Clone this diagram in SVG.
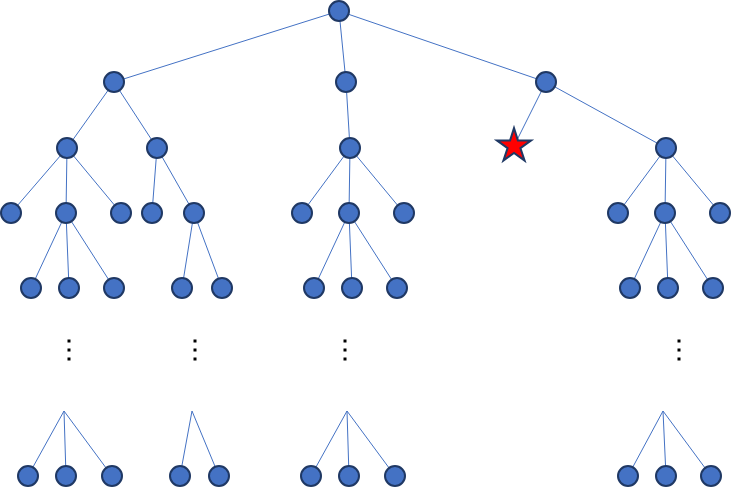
<svg xmlns="http://www.w3.org/2000/svg" width="732" height="487" viewBox="0 0 732 487">
<style>
.e{stroke:#4472C4;stroke-width:1;fill:none}
.n{fill:#4472C4;stroke:#1F3864;stroke-width:2}
.d{fill:#000}
</style>
<defs>
<circle id="c" r="10" class="n"/>
<g id="dots"><rect x="-1.5" y="-1.5" width="3" height="3" class="d"/><rect x="-1.5" y="7.5" width="3" height="3" class="d"/><rect x="-1.5" y="16.5" width="3" height="3" class="d"/></g>
</defs>
<rect width="732" height="487" fill="#fff"/>
<g id="connectors">
<path class="e" d="M339 11L114 82M339 11L346 82M339 11L546 82"/>
<path class="e" d="M114 82L67 148M114 82L157 148M346 82L350 148M546 82L514 146M546 82L666 148"/>
<path class="e" d="M67 148L11 213M67 148L66 213M67 148L121 213M157 148L152 213M157 148L194 213M350 148L302 213M350 148L349 213M350 148L404 213M666 148L618 213M666 148L665 213M666 148L720 213"/>
<path class="e" d="M66 213L31 288M66 213L69 288M66 213L114 288M194 213L182 288M194 213L222 288M349 213L314 288M349 213L352 288M349 213L397 288M665 213L630 288M665 213L668 288M665 213L713 288"/>
<path class="e" d="M64 411L28 476M64 411L66 476M64 411L112 476M192 411L180 476M192 411L219 476M347 411L311 476M347 411L349 476M347 411L395 476M663 411L628 476M663 411L666 476M663 411L711 476"/>
</g>
<g id="root"><use href="#c" x="339" y="11"/></g>
<g id="n1a"><use href="#c" x="114" y="82"/></g>
<g id="n1b"><use href="#c" x="346" y="82"/></g>
<g id="n1c"><use href="#c" x="546" y="82"/></g>
<g id="n2a"><use href="#c" x="67" y="148"/></g>
<g id="n2b"><use href="#c" x="157" y="148"/></g>
<g id="n2c"><use href="#c" x="350" y="148"/></g>
<g id="star"><polygon points="514,128 517.9,140.4 531.1,140.4 520.4,148.1 524.6,160.6 514,152.9 503.4,160.6 507.6,148.1 496.9,140.4 510.1,140.4" fill="#FF0000" stroke="#1F3864" stroke-width="2" stroke-linejoin="miter"/></g>
<g id="n2e"><use href="#c" x="666" y="148"/></g>
<g id="n3a"><use href="#c" x="11" y="213"/></g>
<g id="n3b"><use href="#c" x="66" y="213"/></g>
<g id="n3c"><use href="#c" x="121" y="213"/></g>
<g id="n3d"><use href="#c" x="152" y="213"/></g>
<g id="n3e"><use href="#c" x="194" y="213"/></g>
<g id="n3f"><use href="#c" x="302" y="213"/></g>
<g id="n3g"><use href="#c" x="349" y="213"/></g>
<g id="n3h"><use href="#c" x="404" y="213"/></g>
<g id="n3i"><use href="#c" x="618" y="213"/></g>
<g id="n3j"><use href="#c" x="665" y="213"/></g>
<g id="n3k"><use href="#c" x="720" y="213"/></g>
<g id="n4a"><use href="#c" x="31" y="288"/></g>
<g id="n4b"><use href="#c" x="69" y="288"/></g>
<g id="n4c"><use href="#c" x="114" y="288"/></g>
<g id="n4d"><use href="#c" x="182" y="288"/></g>
<g id="n4e"><use href="#c" x="222" y="288"/></g>
<g id="n4f"><use href="#c" x="314" y="288"/></g>
<g id="n4g"><use href="#c" x="352" y="288"/></g>
<g id="n4h"><use href="#c" x="397" y="288"/></g>
<g id="n4i"><use href="#c" x="630" y="288"/></g>
<g id="n4j"><use href="#c" x="668" y="288"/></g>
<g id="n4k"><use href="#c" x="713" y="288"/></g>
<g id="ellipses">
<use href="#dots" x="69" y="341"/>
<use href="#dots" x="195" y="341"/>
<use href="#dots" x="345" y="341"/>
<use href="#dots" x="679" y="341"/>
</g>
<g id="n5a"><use href="#c" x="28" y="476"/></g>
<g id="n5b"><use href="#c" x="66" y="476"/></g>
<g id="n5c"><use href="#c" x="112" y="476"/></g>
<g id="n5d"><use href="#c" x="180" y="476"/></g>
<g id="n5e"><use href="#c" x="219" y="476"/></g>
<g id="n5f"><use href="#c" x="311" y="476"/></g>
<g id="n5g"><use href="#c" x="349" y="476"/></g>
<g id="n5h"><use href="#c" x="395" y="476"/></g>
<g id="n5i"><use href="#c" x="628" y="476"/></g>
<g id="n5j"><use href="#c" x="666" y="476"/></g>
<g id="n5k"><use href="#c" x="711" y="476"/></g>
</svg>
